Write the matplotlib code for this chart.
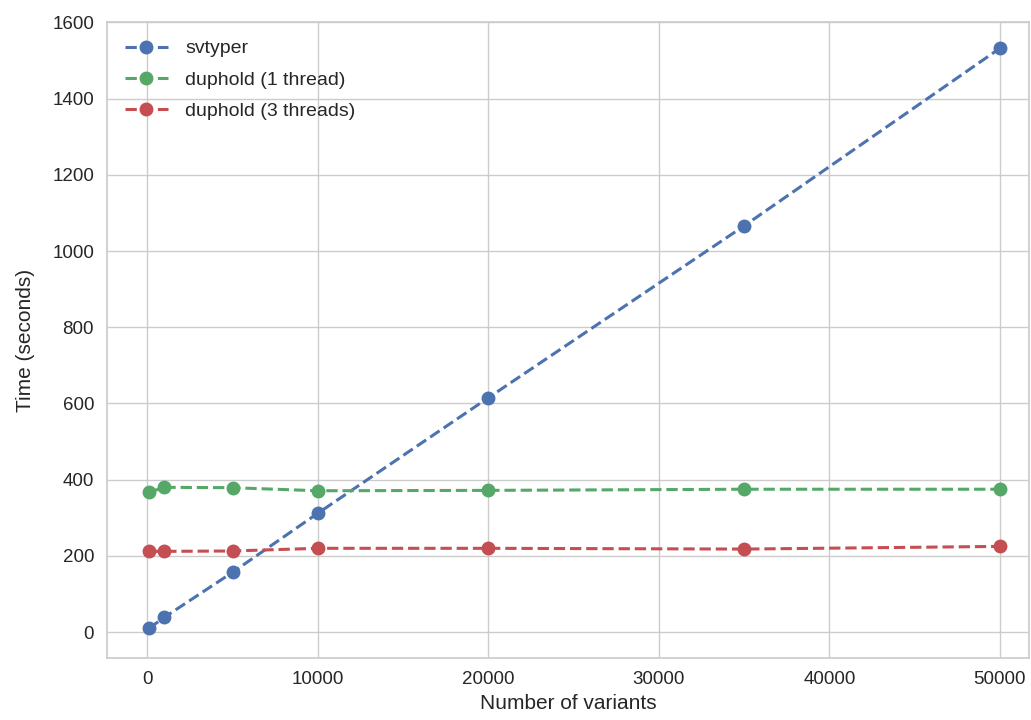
import matplotlib
matplotlib.use("Agg")
import matplotlib.pyplot as plt
import seaborn as sns

sns.set_theme(style="whitegrid", context="notebook")
plt.rcParams['font.family'] = ['Liberation Sans', 'DejaVu Sans']

n_variants = [100, 1000, 5000, 10000, 20000, 35000, 50000]
svtyper = [10, 39, 157, 312, 615, 1066, 1532]
duphold_1 = [367, 380, 379, 371, 372, 375, 375]
duphold_3 = [212, 212, 213, 220, 220, 218, 225]

fig = plt.figure(figsize=(10.31, 7.2), dpi=100)
ax = fig.add_axes([0.104, 0.086, 0.894, 0.883])

style = dict(linestyle="--", marker="o", linewidth=2.2, markersize=9)
ax.plot(n_variants, svtyper, color="#4C72B0", label="svtyper", **style)
ax.plot(n_variants, duphold_1, color="#55A868", label="duphold (1 thread)", **style)
ax.plot(n_variants, duphold_3, color="#C44E52", label="duphold (3 threads)", **style)

ax.set_ylim(-68, 1600)
ax.set_xlim(-2350, 51700)
ax.set_xlabel("Number of variants", fontsize=15, labelpad=4)
ax.set_ylabel("Time (seconds)", fontsize=15, labelpad=12)
ax.tick_params(labelsize=13.5)
ax.legend(loc="upper left", fontsize=14, frameon=False, borderaxespad=0.5,
          handlelength=2.2, handletextpad=0.9, labelspacing=0.7)

fig.savefig("out.png", dpi=100)
